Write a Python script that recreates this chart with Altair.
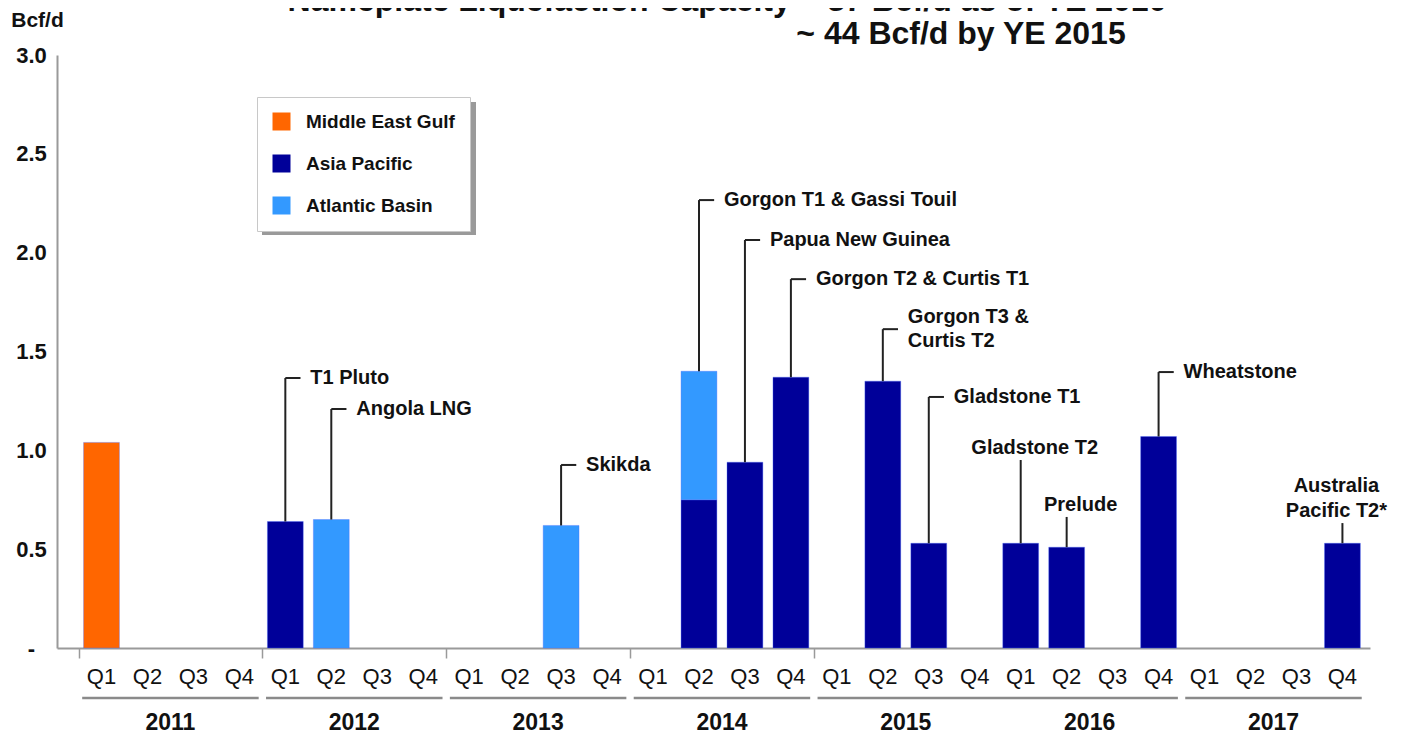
import altair as alt
import pandas as pd

FONT = "Liberation Sans"
INK = "#111111"

# ---------------- data ----------------
regions = ["Middle East Gulf", "Asia Pacific", "Atlantic Basin"]
region_colors = ["#FF6600", "#000099", "#3399FF"]

quarter_names = ["Q1", "Q2", "Q3", "Q4"]
years = ["2011", "2012", "2013", "2014", "2015", "2016", "2017"]

# quarter index: 0 = Q1 2011 ... 27 = Q4 2017
bar_quarter = [0, 4, 5, 10, 13, 13, 14, 15, 17, 18, 20, 21, 23, 27]
bar_region = ["Middle East Gulf", "Asia Pacific", "Atlantic Basin", "Atlantic Basin",
              "Asia Pacific", "Atlantic Basin", "Asia Pacific", "Asia Pacific",
              "Asia Pacific", "Asia Pacific", "Asia Pacific", "Asia Pacific",
              "Asia Pacific", "Asia Pacific"]
bar_value = [1.04, 0.64, 0.65, 0.62, 0.75, 0.65, 0.94, 1.37, 1.35, 0.53, 0.53, 0.51, 1.07, 0.53]

ann_text = [["T1 Pluto"], ["Angola LNG"], ["Skikda"], ["Gorgon T1 & Gassi Touil"],
            ["Papua New Guinea"], ["Gorgon T2 & Curtis T1"], ["Gorgon T3 &", "Curtis T2"],
            ["Gladstone T1"], ["Gladstone T2"], ["Prelude"], ["Wheatstone"],
            ["Australia", "Pacific T2*"]]
ann_quarter = [4, 5, 10, 13, 14, 15, 17, 18, 20, 21, 23, 27]
ann_level = [1.366, 1.209, 0.926, 2.266, 2.064, 1.866, 1.613, 1.27, 0.951, 0.663, 1.396, 0.632]
ann_style = ["side", "side", "side", "side", "side", "side", "side", "side",
             "above", "above", "side", "above"]

year_groups = [["2011"], ["2012"], ["2013"], ["2014"], ["2015", "2016"], ["2017"]]
year_tick_years = ["2011", "2012", "2013", "2014", "2015"]

title_line1 = "Nameplate Liquefaction Capacity ~ 37 Bcf/d as of YE 2010"
title_line2 = "~ 44 Bcf/d by YE 2015"

# ---------------- tables ----------------
region_order = {r: i for i, r in enumerate(regions)}
bars = pd.DataFrame({"q": bar_quarter, "region": bar_region, "value": bar_value})
bars["ord"] = bars["region"].map(region_order)

totals = bars.groupby("q")["value"].sum()
ann = pd.DataFrame({"q": ann_quarter, "text": ann_text, "level": ann_level, "style": ann_style})
ann["top"] = ann["q"].map(totals)

n_q = len(years) * 4
quarters = pd.DataFrame({"q": list(range(n_q)),
                         "label": [quarter_names[i % 4] for i in range(n_q)]})
year_df = pd.DataFrame({"year": years, "k": list(range(len(years)))})
groups = pd.DataFrame({
    "first": [years.index(g[0]) for g in year_groups],
    "last": [years.index(g[-1]) for g in year_groups],
})
tick_vals = [years.index(y) * 4 - 0.5 for y in year_tick_years]

# ---------------- scales / axes ----------------
W, H = 1313, 593
X_DOMAIN = [-0.968, 27.6]
PX = 3.0 / H                                  # y data units per pixel
PXX = (X_DOMAIN[1] - X_DOMAIN[0]) / W         # x data units per pixel
xscale = alt.Scale(domain=X_DOMAIN, nice=False, zero=False)
yscale = alt.Scale(domain=[0, 3], nice=False, zero=True)

x_axis = alt.Axis(values=tick_vals, labels=False, ticks=True, tickSize=10, tickColor="#9a9a9a",
                  tickWidth=1.5, domainColor="#9a9a9a", domainWidth=2, grid=False, title=None)
y_axis = alt.Axis(values=[0, 0.5, 1, 1.5, 2, 2.5, 3],
                  labelExpr="datum.value == 0 ? '-' : format(datum.value, '.1f')",
                  ticks=False, domainColor="#9a9a9a", domainWidth=2, grid=False,
                  labelFont=FONT, labelFontSize=22, labelFontWeight="bold", labelColor=INK,
                  labelAlign="center", labelPadding=26,
                  title="Bcf/d", titleAngle=0, titleX=-20, titleY=-35, titleFont=FONT,
                  titleFontSize=21, titleFontWeight="bold", titleColor=INK,
                  titleAlign="center", titleBaseline="middle")


def X(field):
    return alt.X(field, scale=xscale, axis=x_axis)


def Y(field):
    return alt.Y(field, scale=yscale, axis=y_axis)


# legend drop shadow (decoration behind the legend box)
shadow = alt.Chart(pd.DataFrame({"a": [0]})).mark_rect(color="#9a9a9a").encode(
    x=alt.value(205), x2=alt.value(419), y=alt.value(47), y2=alt.value(180))

bar_layer = alt.Chart(bars).transform_stack(
    stack="value", groupby=["q"], as_=["y0", "y1"], sort=[alt.SortField("ord")]
).transform_calculate(
    lo="datum.q - 0.39", hi="datum.q + 0.39"
).mark_bar(stroke="#4d6bff", strokeWidth=0.6, strokeOpacity=0.6).encode(
    x=X("lo:Q"),
    x2="hi:Q",
    y=Y("y0:Q"),
    y2="y1:Q",
    color=alt.Color("region:N", scale=alt.Scale(domain=regions, range=region_colors),
                    legend=alt.Legend(title=None, orient="none", legendX=200, legendY=42,
                                      symbolType="square", symbolSize=324, symbolStrokeWidth=0,
                                      symbolOpacity=1,
                                      labelFont=FONT, labelFontSize=19, labelFontWeight="bold",
                                      labelColor=INK, labelOffset=15, labelLimit=400,
                                      rowPadding=22, padding=15, strokeColor="#c8c8c8",
                                      fillColor="white")),
)

leader_v = alt.Chart(ann).mark_rule(color="#222222", strokeWidth=2).encode(
    x=X("q:Q"),
    y=Y("top:Q"),
    y2="level:Q",
)

leader_h = alt.Chart(ann).transform_filter("datum.style == 'side'").transform_calculate(
    qe="datum.q + 0.33"
).mark_rule(color="#222222", strokeWidth=2).encode(
    x=X("q:Q"),
    x2="qe:Q",
    y=Y("level:Q"),
)

side_text = alt.Chart(ann).transform_filter("datum.style == 'side'").transform_calculate(
    ty=f"datum.level + (datum.text.length - 1) * 12 * {PX}"
).mark_text(
    align="left", baseline="middle", dx=25, font=FONT, fontSize=20, fontWeight="bold",
    color=INK, lineHeight=24
).encode(
    x=X("q:Q"),
    y=Y("ty:Q"),
    text="text",
)

above_text = alt.Chart(ann).transform_filter("datum.style == 'above'").transform_calculate(
    ty=f"datum.level + 12 * {PX} + (datum.text.length - 1) * 25 * {PX}",
    tx=f"datum.q + (datum.text.length > 1 ? -6 : 14) * {PXX}",
).mark_text(
    align="center", baseline="middle", font=FONT, fontSize=20, fontWeight="bold",
    color=INK, lineHeight=25
).encode(
    x=X("tx:Q"),
    y=Y("ty:Q"),
    text="text",
)

q_text = alt.Chart(quarters).mark_text(
    align="center", baseline="middle", font=FONT, fontSize=22, color=INK
).encode(
    x=X("q:Q"),
    y=alt.value(H + 29),
    text="label:N",
)

year_text = alt.Chart(year_df).transform_calculate(pos="datum.k * 4 + 1.5").mark_text(
    align="center", baseline="middle", font=FONT, fontSize=23, fontWeight="bold", color=INK
).encode(
    x=X("pos:Q"),
    y=alt.value(H + 75),
    text="year:N",
)

underline = alt.Chart(groups).transform_calculate(
    s="datum.first * 4 - 0.42", e="datum.last * 4 + 3.42"
).mark_rule(color="#8a8a8a", strokeWidth=2.5).encode(
    x=X("s:Q"),
    x2="e:Q",
    y=alt.value(H + 50),
)

title_df = pd.DataFrame({"t1": [title_line1], "t2": [title_line2]})
title1 = alt.Chart(title_df).mark_text(
    align="center", baseline="alphabetic", font=FONT, fontSize=32, fontWeight="bold", color=INK
).encode(x=alt.value(670), y=alt.value(-44), text="t1:N")
title2 = alt.Chart(title_df).mark_text(
    align="center", baseline="middle", font=FONT, fontSize=32, fontWeight="bold", color=INK
).encode(x=alt.value(904), y=alt.value(-21), text="t2:N")

chart = alt.layer(
    shadow, bar_layer, leader_v, leader_h, side_text, above_text,
    q_text, year_text, underline, title1, title2
).properties(
    width=W, height=H,
    autosize=alt.AutoSizeParams(type="none"),
    padding={"left": 49, "top": 47, "right": 25, "bottom": 86},
    background="white",
).configure_view(stroke=None)

chart.save("out.html", embed_options={"renderer": "svg", "actions": False})
